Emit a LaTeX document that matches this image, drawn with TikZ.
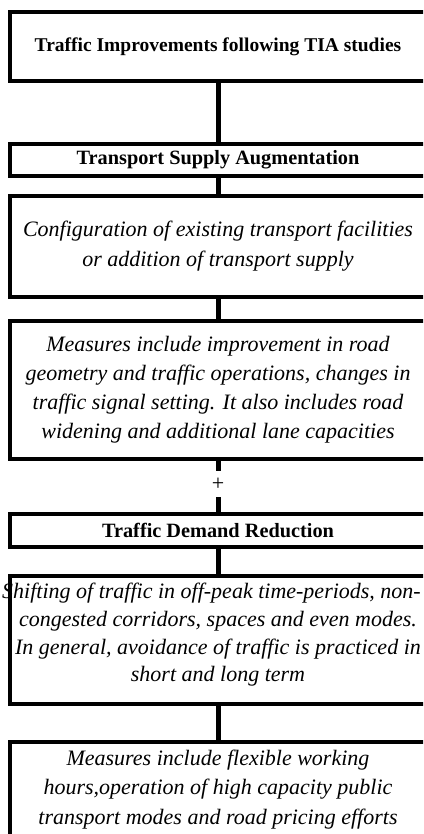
\documentclass[tikz,border=0pt]{standalone}
\usepackage{fontspec}
\setmainfont{Liberation Serif}
\begin{document}
\begin{tikzpicture}[x=1pt,y=-1pt,
  box/.style={draw, line width=4.2pt, minimum width=416pt, inner sep=0pt, align=center, anchor=north},
  headbox/.style={box, font=\bfseries\fontsize{20.3}{22}\selectfont},
  bodybox/.style={box, font=\itshape\fontsize{22}{29}\selectfont},
  link/.style={line width=5pt}]
\useasboundingbox (0,0) rectangle (423,834);
\clip (0,0) rectangle (423,834);
\node[headbox, minimum height=69pt, font=\bfseries\fontsize{19.5}{22}\selectfont] (b1) at (218,10) {Traffic Improvements following TIA studies};
\node[headbox, minimum height=32pt] (b2) at (218,142) {Transport Supply Augmentation};
\node[bodybox, minimum height=101pt, font=\itshape\fontsize{22}{30}\selectfont] (b3) at (218,194) {Configuration of existing transport facilities\\or addition of transport supply};
\node[bodybox, minimum height=138pt] (b4) at (218,319) {Measures include improvement in road\\geometry and traffic operations, changes in\\traffic signal setting. It also includes road\\widening and additional lane capacities};
\node[inner sep=0pt, minimum height=26pt, font=\fontsize{22}{22}\selectfont] (plus) at (218,484) {+};
\node[headbox, minimum height=33pt] (b5) at (218,512) {Traffic Demand Reduction};
\node[bodybox, minimum height=128pt, text depth=15pt, font=\itshape\fontsize{22}{27.7}\selectfont] (b6) at (218,574) {\makebox[400pt][c]{\hspace*{-13pt}Shifting of traffic in off-peak time-periods, non-}\\congested corridors, spaces and even modes.\\In general, avoidance of traffic is practiced in\\short and long term};
\node[bodybox, minimum height=140pt, text depth=50pt, font=\itshape\fontsize{22}{29.5}\selectfont] (b7) at (218,740) {Measures include flexible working\\hours,operation of high capacity public\\transport modes and road pricing efforts};
\draw[link] (b1.south) -- (b2.north);
\draw[link] (b2.south) -- (b3.north);
\draw[link] (b3.south) -- (b4.north);
\draw[link] (b4.south) -- (plus.north);
\draw[link] (plus.south) -- (b5.north);
\draw[link] (b5.south) -- (b6.north);
\draw[link] (b6.south) -- (b7.north);
\end{tikzpicture}
\end{document}
